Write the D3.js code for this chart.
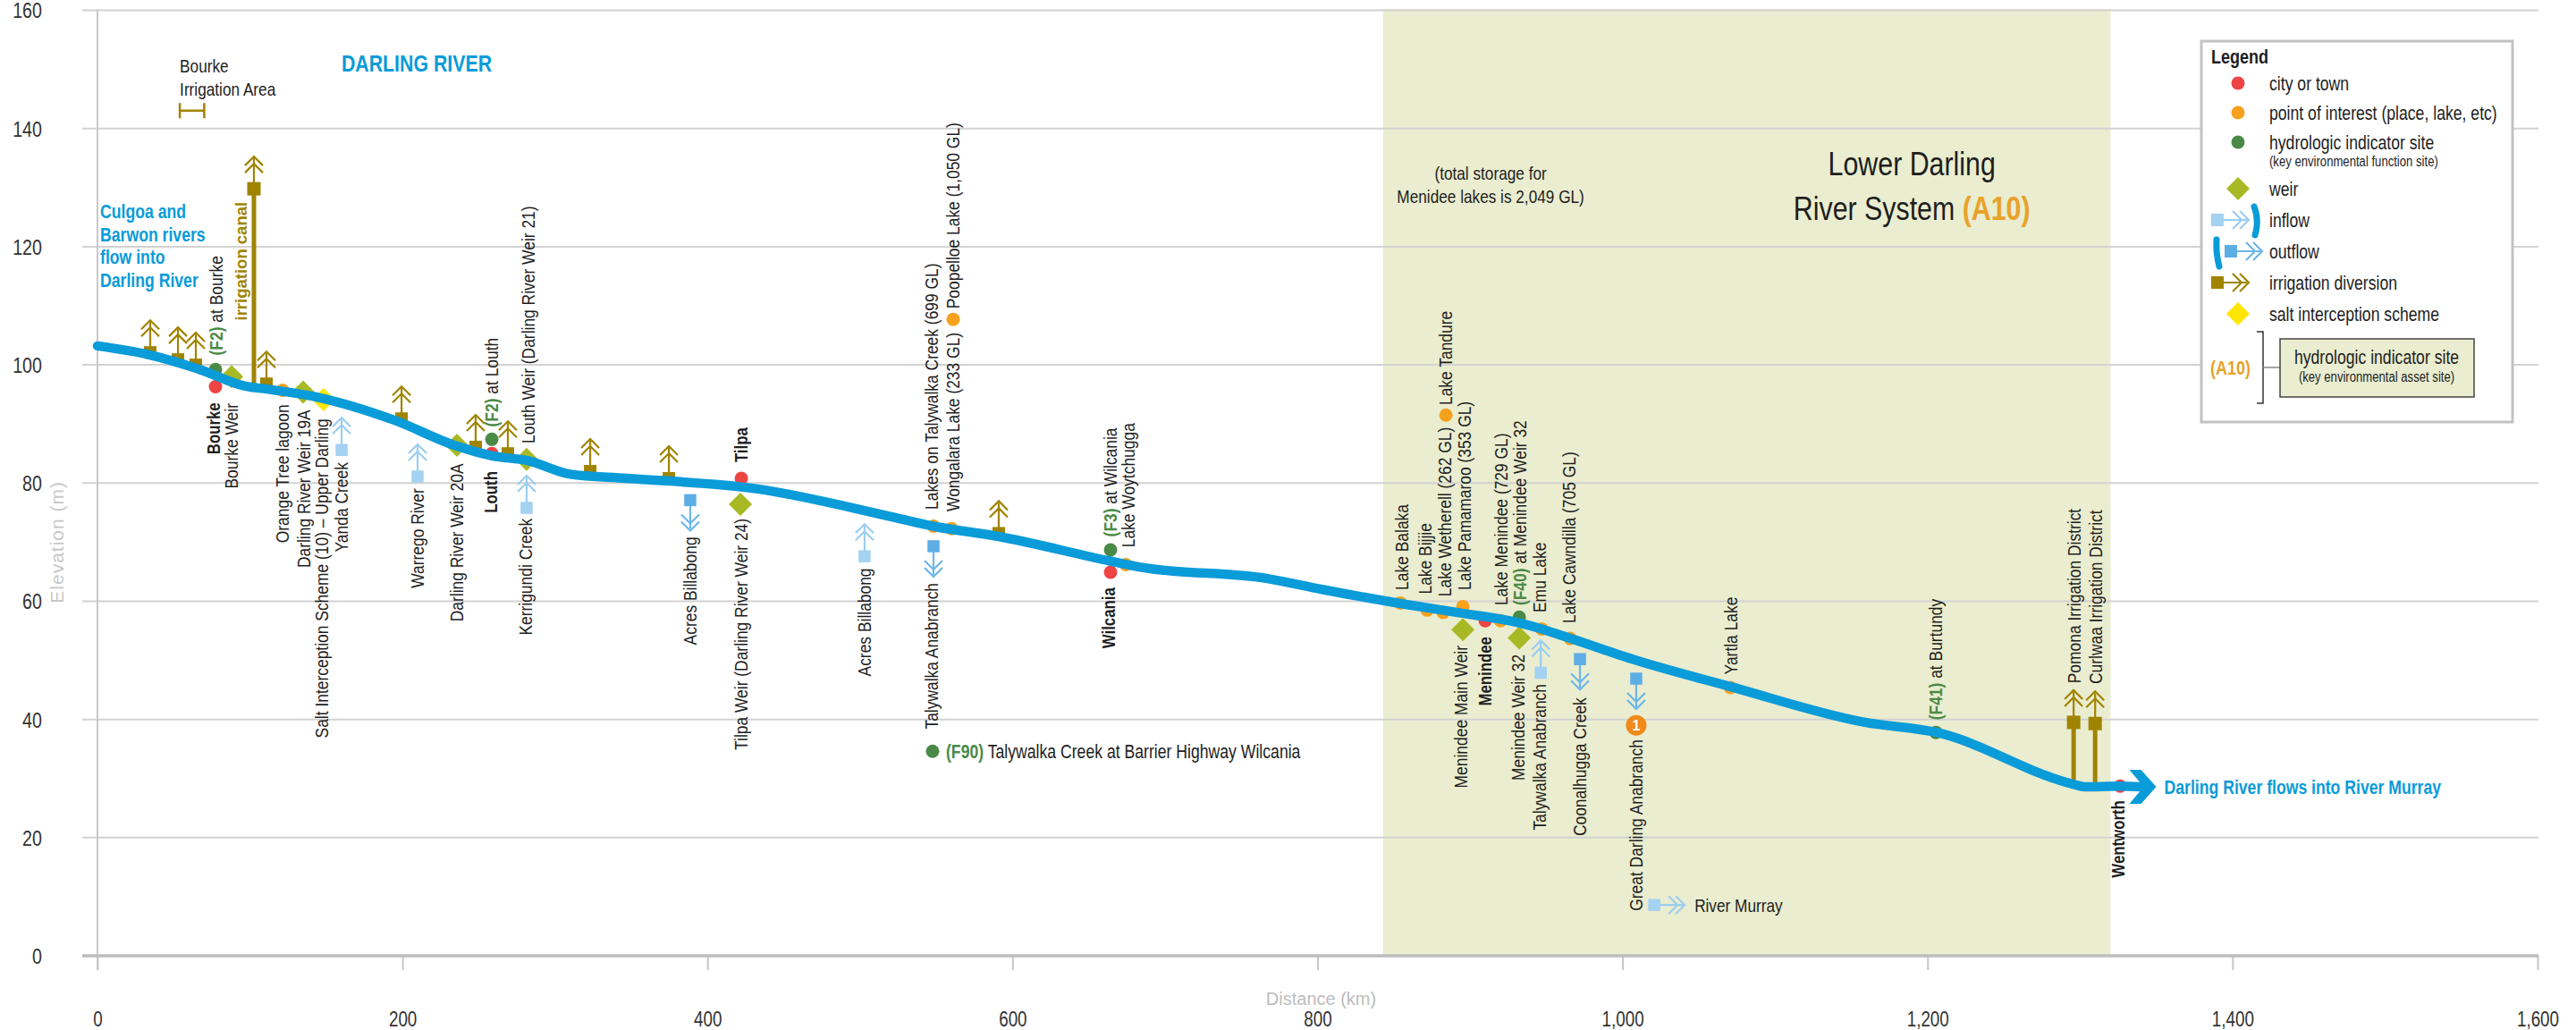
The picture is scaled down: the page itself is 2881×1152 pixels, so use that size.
<!DOCTYPE html>
<html>
<head>
<meta charset="utf-8">
<script src="https://cdn.jsdelivr.net/npm/d3@7"></script>
<style>
  body { margin: 0; background: #fff; }
  svg { display: block; font-family: "Liberation Sans", Arial, sans-serif; }
</style>
</head>
<body>
<svg id="chart" width="2881" height="1152"></svg>
<script>
// ---- data (km from source, elevation in m) ----
const xTicks = [0, 200, 400, 600, 800, 1000, 1200, 1400, 1600];
const yTicks = [0, 20, 40, 60, 80, 100, 120, 140, 160];

const riverKm   = [0, 34, 65, 97, 111, 141, 195, 235, 259, 282, 310, 347, 433, 519, 548, 590, 664, 683, 768, 803, 857, 894, 931, 952, 965, 1009, 1070, 1159, 1206, 1296, 1303, 1326, 1340];
const riverElev = [103.2, 101.7, 99.4, 96.4, 95.9, 94.7, 90.6, 86.3, 84.6, 83.8, 81.5, 80.8, 79, 74.4, 72.7, 71, 66.8, 65.8, 63.8, 62, 59.5, 58, 56.4, 54.9, 53.8, 50, 45.6, 39.5, 37.8, 29, 28.6, 28.7, 28.6];

const lowerDarlingKm = [843, 1320];
const bourkeIrrigationKm = [54, 70];

const towns = [
  {km: 77.4, elev: 96.3}, {km: 258.6, elev: 85}, {km: 422.2, elev: 80.8},
  {km: 664.3, elev: 64.9}, {km: 910, elev: 56.7}, {km: 1326.3, elev: 28.7}
];
const pointsOfInterest = [
  {km: 121.4, elev: 95.7}, {km: 548.2, elev: 72.7}, {km: 560, elev: 72.3}, {km: 561.1, elev: 107.7},
  {km: 674.3, elev: 66.2}, {km: 854.3, elev: 59.7}, {km: 871.9, elev: 58.5}, {km: 882.4, elev: 58.1},
  {km: 884.2, elev: 91.5}, {km: 895.3, elev: 59.1}, {km: 920, elev: 56.7}, {km: 947, elev: 55.3},
  {km: 965.7, elev: 53.7}, {km: 1070.7, elev: 45.4}
];
const indicatorSites = [
  {km: 77.4, elev: 99.2}, {km: 258.6, elev: 87.4}, {km: 664.3, elev: 68.7},
  {km: 932.3, elev: 57.3}, {km: 1205.5, elev: 37.8}, {km: 547.6, elev: 34.6}
];
const weirs = [
  {km: 88, elev: 98}, {km: 134.9, elev: 95.4}, {km: 235.7, elev: 86.4}, {km: 281.4, elev: 84},
  {km: 421.6, elev: 76.4}, {km: 895.3, elev: 55.2}, {km: 932.3, elev: 53.8}
];
const saltSchemes = [{km: 148.3, elev: 94.1}];
const irrigation = [
  {km: 34.6, elev: 102.1}, {km: 52.8, elev: 100.9}, {km: 64.5, elev: 100}, {km: 102.6, elev: 129.8, canal: true},
  {km: 110.8, elev: 96.8}, {km: 199.4, elev: 90.9}, {km: 248, elev: 86.1}, {km: 269.1, elev: 85},
  {km: 323.1, elev: 82}, {km: 374.7, elev: 80.8}, {km: 591, elev: 71.5},
  {km: 1295.8, elev: 39.5, canal: true}, {km: 1309.9, elev: 39.3, canal: true}
];
const inflows = [
  {km: 160.1, elev: 85.6}, {km: 209.9, elev: 81.1}, {km: 281.4, elev: 75.8},
  {km: 503, elev: 67.6}, {km: 946.4, elev: 47.9}
];
const outflows = [
  {km: 388.7, elev: 77.1}, {km: 548.2, elev: 69.3}, {km: 972.1, elev: 50.2}, {km: 1009, elev: 46.9}
];
const murrayInflow = {km: 1021.4, elev: 8.6};
const numberedSite = {km: 1009, elev: 39, n: "1"};

// dir "up": text starts at the point and runs upward; "down": text ends at the point
const siteLabels = [
  {text: "Bourke", km: 76.2, elev: 93.6, dir: "down", bold: true},
  {text: "Bourke Weir", km: 88, elev: 93.5, dir: "down"},
  {text: "Orange Tree lagoon", km: 121.4, elev: 93.3, dir: "down"},
  {text: "Darling River Weir 19A", km: 135.4, elev: 92.4, dir: "down"},
  {text: "Salt Interception Scheme (10) \u2013 Upper Darling", km: 147.2, elev: 90.9, dir: "down"},
  {text: "Yanda Creek", km: 160, elev: 83.5, dir: "down"},
  {text: "Warrego River", km: 210, elev: 79.1, dir: "down"},
  {text: "Darling River Weir 20A", km: 235.7, elev: 83.3, dir: "down"},
  {text: "Louth", km: 258, elev: 82, dir: "down", bold: true},
  {text: "Kerrigundi Creek", km: 280.9, elev: 74, dir: "down"},
  {code: "(F2)", text: "at Bourke", km: 78, elev: 101.6, dir: "up"},
  {code: "(F2)", text: "at Louth", km: 258.6, elev: 89.5, dir: "up"},
  {text: "Louth Weir (Darling River Weir 21)", km: 282.6, elev: 86.7, dir: "up"},
  {text: "Acres Billabong", km: 388.7, elev: 70.9, dir: "down"},
  {text: "Tilpa Weir (Darling River Weir 24)", km: 422.2, elev: 74, dir: "down"},
  {text: "Tilpa", km: 422.2, elev: 83.5, dir: "up", bold: true},
  {text: "Acres Billabong", km: 503, elev: 65.6, dir: "down"},
  {text: "Talywalka Anabranch", km: 547, elev: 63.1, dir: "down"},
  {text: "Lakes on Talywalka Creek (699 GL)", km: 547, elev: 75.5, dir: "up"},
  {text: "Wongalara Lake (233 GL)", km: 561, elev: 75.2, dir: "up"},
  {text: "Poopelloe Lake (1,050 GL)", km: 561, elev: 109.5, dir: "up"},
  {text: "Wilcania", km: 663, elev: 62.3, dir: "down", bold: true},
  {code: "(F3)", text: "at Wilcania", km: 664.3, elev: 70.9, dir: "up"},
  {text: "Lake Woytchugga", km: 676, elev: 69.1, dir: "up"},
  {text: "Lake Balaka", km: 855.5, elev: 61.9, dir: "up"},
  {text: "Lake Bijjie", km: 870.7, elev: 61.2, dir: "up"},
  {text: "Lake Wetherell (262 GL)", km: 883.6, elev: 60.8, dir: "up"},
  {text: "Lake Tandure", km: 884.2, elev: 93.2, dir: "up"},
  {text: "Lake Pamamaroo (353 GL)", km: 896.5, elev: 61.9, dir: "up"},
  {text: "Lake Menindee (729 GL)", km: 920.6, elev: 59.3, dir: "up"},
  {code: "(F40)", text: "at Menindee Weir 32", km: 932.9, elev: 59.3, dir: "up"},
  {text: "Emu Lake", km: 945.8, elev: 58.1, dir: "up"},
  {text: "Lake Cawndilla (705 GL)", km: 965.1, elev: 56.3, dir: "up"},
  {text: "Yartla Lake", km: 1071.2, elev: 47.6, dir: "up"},
  {text: "Menindee Main Weir", km: 894.2, elev: 52.5, dir: "down"},
  {text: "Menindee", km: 910, elev: 54, dir: "down", bold: true},
  {text: "Menindee Weir 32", km: 931.7, elev: 51, dir: "down"},
  {text: "Talywalka Anabranch", km: 945.8, elev: 46, dir: "down"},
  {text: "Coonalhugga Creek", km: 972.2, elev: 43.7, dir: "down"},
  {text: "Great Darling Anabranch", km: 1009, elev: 36.6, dir: "down"},
  {code: "(F41)", text: "at Burtundy", km: 1205.5, elev: 39.9, dir: "up"},
  {text: "Pomona Irrigation District", km: 1296.4, elev: 46.1, dir: "up"},
  {text: "Curlwaa Irrigation District", km: 1310, elev: 46, dir: "up"},
  {text: "Wentworth", km: 1325, elev: 26.3, dir: "down", bold: true}
];

const legendItems = [
  {type: "town", label: "city or town"},
  {type: "poi", label: "point of interest (place, lake, etc)"},
  {type: "indicator", label: "hydrologic indicator site", note: "(key environmental function site)"},
  {type: "weir", label: "weir"},
  {type: "inflow", label: "inflow"},
  {type: "outflow", label: "outflow"},
  {type: "irrigation", label: "irrigation diversion"},
  {type: "salt", label: "salt interception scheme"}
];

// ---- colours ----
const C = {
  river: "#0a9bd9", red: "#ee4444", orange: "#f7a11c", green: "#4a8a46", weir: "#a9b925",
  irrig: "#a08400", inflowSq: "#a3d2f2", inflowLn: "#9bcdf0", outflowSq: "#5eaee6", outflowLn: "#6cb6ea",
  salt: "#ffe600", shade: "#eaedcf", text: "#1e1e1e", fig: "#f08a1c", a10: "#e8a22a"
};
const NARROW = 0.82;

const svg = d3.select("#chart");
const x = d3.scaleLinear().domain([0, 1600]).range([109, 2838]);
const y = d3.scaleLinear().domain([0, 160]).range([1069, 11.5]);

// narrow (condensed) text helper
function ntext(parent, px, py, str, o = {}) {
  const t = parent.append("text")
    .attr("transform", `translate(${px},${py})${o.rotate ? " rotate(-90)" : ""} scale(${o.squeeze || NARROW},1)`)
    .attr("font-size", o.size || 21)
    .attr("fill", o.fill || C.text)
    .attr("text-anchor", o.anchor || "start")
    .attr("font-weight", o.bold ? "bold" : null);
  if (o.dy) t.attr("dy", o.dy);
  if (str !== null) t.text(str);
  return t;
}

// ---- background region ----
svg.append("rect")
  .attr("x", x(lowerDarlingKm[0])).attr("y", y(160) - 1.5)
  .attr("width", x(lowerDarlingKm[1]) - x(lowerDarlingKm[0]))
  .attr("height", y(0) - y(160) + 1.5)
  .attr("fill", C.shade);

// ---- grid & axes ----
svg.append("g").selectAll("line").data(yTicks.filter(d => d > 0)).join("line")
  .attr("x1", x(0) - 17).attr("x2", x(1600) + 1)
  .attr("y1", d => y(d)).attr("y2", d => y(d))
  .attr("stroke", "#d2d2d2").attr("stroke-width", 2);

const xAxisG = svg.append("g").attr("transform", `translate(0,${y(0)})`)
  .call(d3.axisBottom(x).tickValues(xTicks).tickSize(16).tickFormat(d3.format(",")));
xAxisG.attr("font-family", null).attr("font-size", 23);
xAxisG.select(".domain").remove();
xAxisG.selectAll(".tick line").attr("stroke", "#c6c6c6").attr("stroke-width", 2);
xAxisG.selectAll(".tick text").attr("y", 0).attr("dy", "0.35em")
  .attr("transform", `translate(0,71) scale(${NARROW},1)`).attr("fill", "#333");

const yAxisG = svg.append("g").attr("transform", `translate(${x(0)},0)`)
  .call(d3.axisLeft(y).tickValues(yTicks).tickSize(0));
yAxisG.attr("font-family", null).attr("font-size", 24);
yAxisG.select(".domain").remove();
yAxisG.selectAll(".tick text").attr("x", 0).attr("dy", "0.35em")
  .attr("transform", `translate(-62,0) scale(${NARROW},1)`).attr("fill", "#333");

svg.append("line").attr("x1", x(0)).attr("x2", x(0))
  .attr("y1", y(160) - 1).attr("y2", y(0) + 16)
  .attr("stroke", "#c8c8c8").attr("stroke-width", 2);
svg.append("line").attr("x1", x(0) - 17).attr("x2", x(1600) + 1)
  .attr("y1", y(0)).attr("y2", y(0))
  .attr("stroke", "#bdbdbd").attr("stroke-width", 3.5);

svg.append("text").attr("transform", `translate(${x(0) - 38},${y(70)}) rotate(-90)`)
  .attr("text-anchor", "middle").attr("font-size", 21).attr("letter-spacing", 1)
  .attr("fill", "#c8c8c8").text("Elevation (m)");
svg.append("text").attr("x", x(800) + 4).attr("y", 1124)
  .attr("text-anchor", "middle").attr("font-size", 20).attr("fill", "#bdbdbd").text("Distance (km)");

// ---- river profile ----
const river = riverKm.map((k, i) => ({km: k, elev: riverElev[i]}));
const riverAt = km => {
  const i = d3.bisector(d => d.km).right(river, km);
  const a = river[Math.max(0, i - 1)], b = river[Math.min(river.length - 1, i)];
  return a.km === b.km ? a.elev : a.elev + (b.elev - a.elev) * (km - a.km) / (b.km - a.km);
};

// tall stems of canals drawn under the river
const marks = svg.append("g");
marks.selectAll("line.stem").data(irrigation.filter(d => d.canal)).join("line")
  .attr("class", "stem")
  .attr("x1", d => x(d.km)).attr("x2", d => x(d.km))
  .attr("y1", d => y(riverAt(d.km))).attr("y2", d => y(d.elev))
  .attr("stroke", C.irrig).attr("stroke-width", 5).attr("stroke-linecap", "round");

svg.append("path").datum(river)
  .attr("d", d3.line().x(d => x(d.km)).y(d => y(d.elev)).curve(d3.curveMonotoneX))
  .attr("fill", "none").attr("stroke", C.river).attr("stroke-width", 10.5)
  .attr("stroke-linecap", "round").attr("stroke-linejoin", "round");

const last = river[river.length - 1];
const tx = x(last.km) + 17, ty = y(last.elev);
svg.append("polygon")
  .attr("points", [[tx - 30, ty - 19], [tx - 17, ty - 19], [tx, ty], [tx - 17, ty + 19], [tx - 30, ty + 19], [tx - 14, ty]].join(" "))
  .attr("fill", C.river);

// ---- symbol helpers ----
function chevronArrow(g, x1, y1, x2, y2, color, w) {
  const len = Math.hypot(x2 - x1, y2 - y1), ux = (x2 - x1) / len, uy = (y2 - y1) / len;
  g.append("line").attr("x1", x1).attr("y1", y1).attr("x2", x2 - ux * 2).attr("y2", y2 - uy * 2)
    .attr("stroke", color).attr("stroke-width", w);
  [0, 8].forEach(off => {
    const px = x2 - ux * off, py = y2 - uy * off, back = 10, half = 10;
    g.append("polyline")
      .attr("points", [[px - ux * back - uy * half, py - uy * back + ux * half], [px, py],
                       [px - ux * back + uy * half, py - uy * back - ux * half]].join(" "))
      .attr("fill", "none").attr("stroke", color).attr("stroke-width", w);
  });
}
const diamond = (g, cx, cy, r, fill) => g.append("path")
  .attr("d", `M${cx},${cy - r}L${cx + r},${cy}L${cx},${cy + r}L${cx - r},${cy}Z`).attr("fill", fill);
const square = (g, cx, cy, s, fill) => g.append("rect")
  .attr("x", cx - s / 2).attr("y", cy - s / 2).attr("width", s).attr("height", s).attr("fill", fill);

// irrigation diversions
irrigation.forEach(d => {
  const cx = x(d.km), cy = y(d.elev);
  chevronArrow(marks, cx, cy, cx, cy - 36, C.irrig, 2.2);
  square(marks, cx, cy, d.canal ? 15 : 14, C.irrig);
});
// inflows (arrow up to river) and outflows (arrow down from river)
inflows.forEach(d => {
  const cx = x(d.km), cy = y(d.elev);
  chevronArrow(marks, cx, cy, cx, cy - 36, C.inflowLn, 2.2);
  square(marks, cx, cy, 13.5, C.inflowSq);
});
outflows.forEach(d => {
  const cx = x(d.km), cy = y(d.elev);
  chevronArrow(marks, cx, cy, cx, cy + 34, C.outflowLn, 2.2);
  square(marks, cx, cy, 13.5, C.outflowSq);
});
{
  const cx = x(murrayInflow.km), cy = y(murrayInflow.elev);
  chevronArrow(marks, cx, cy, cx + 33, cy, C.inflowLn, 2.2);
  square(marks, cx - 1, cy, 13.5, C.inflowSq);
  ntext(marks, cx + 44, cy, "River Murray", {size: 21, dy: "0.35em"});
}

weirs.forEach(d => diamond(marks, x(d.km), y(d.elev), 13, C.weir));
saltSchemes.forEach(d => diamond(marks, x(d.km), y(d.elev), 13, C.salt));
marks.selectAll("circle.poi").data(pointsOfInterest).join("circle").attr("class", "poi")
  .attr("cx", d => x(d.km)).attr("cy", d => y(d.elev)).attr("r", 7.5).attr("fill", C.orange);
marks.selectAll("circle.ind").data(indicatorSites).join("circle").attr("class", "ind")
  .attr("cx", d => x(d.km)).attr("cy", d => y(d.elev)).attr("r", 7.5).attr("fill", C.green);
marks.selectAll("circle.town").data(towns).join("circle").attr("class", "town")
  .attr("cx", d => x(d.km)).attr("cy", d => y(d.elev)).attr("r", 7.5).attr("fill", C.red);

marks.append("circle").attr("cx", x(numberedSite.km)).attr("cy", y(numberedSite.elev))
  .attr("r", 11.5).attr("fill", C.fig);
marks.append("text").attr("x", x(numberedSite.km)).attr("y", y(numberedSite.elev)).attr("dy", "0.36em")
  .attr("text-anchor", "middle").attr("font-size", 16).attr("font-weight", "bold").attr("fill", "#fff")
  .text(numberedSite.n);

// ---- rotated site labels ----
const lab = svg.append("g");
siteLabels.forEach(d => {
  const t = ntext(lab, x(d.km), y(d.elev), null,
    {rotate: true, anchor: d.dir === "up" ? "start" : "end", dy: "0.35em", bold: d.bold,
     size: 20.5, squeeze: d.bold ? 0.82 : 0.85});
  if (d.code) {
    t.append("tspan").attr("fill", C.green).attr("font-weight", "bold").text(d.code);
    t.append("tspan").text(" " + d.text);
  } else t.text(d.text);
});
ntext(lab, x(94.4), y(107.5), null, {rotate: true, dy: "0.35em"})
  .attr("font-size", 18.5).attr("transform", `translate(${x(94.4)},${y(107.5)}) rotate(-90)`)
  .attr("font-weight", "bold").attr("fill", C.irrig).text("irrigation canal");

// F90 horizontal label
{
  const t = ntext(lab, x(547.6) + 15, y(34.6), null, {dy: "0.35em", size: 21.5});
  t.append("tspan").attr("fill", C.green).attr("font-weight", "bold").text("(F90)");
  t.append("tspan").text(" Talywalka Creek at Barrier Highway Wilcania");
}

// ---- annotations ----
const ann = svg.append("g");
// Bourke irrigation area bracket
{
  const x1 = x(bourkeIrrigationKm[0]), x2 = x(bourkeIrrigationKm[1]), by = y(143);
  ann.append("path").attr("d", `M${x1},${by - 8.5}V${by + 8.5}M${x1},${by}H${x2}M${x2},${by - 8.5}V${by + 8.5}`)
    .attr("fill", "none").attr("stroke", C.irrig).attr("stroke-width", 2.5);
  ntext(ann, x1, y(149.5), "Bourke", {size: 21});
  ntext(ann, x1, y(149.5) + 26, "Irrigation Area", {size: 21});
}
ntext(ann, x(160), y(149.6), "DARLING RIVER", {size: 26, bold: true, fill: C.river});
["Culgoa and", "Barwon rivers", "flow into", "Darling River"].forEach((s, i) =>
  ntext(ann, x(1.8), y(124.8) + i * 25.5, s, {size: 21.5, bold: true, fill: C.river}));
ntext(ann, x(913.5), y(131.4), "(total storage for", {size: 21, anchor: "middle"});
ntext(ann, x(913.5), y(131.4) + 26, "Menidee lakes is 2,049 GL)", {size: 21, anchor: "middle"});
ntext(ann, x(1189.7), y(132.1), "Lower Darling", {size: 37, anchor: "middle"});
{
  const t = ntext(ann, x(1189.7), y(132.1) + 50, null, {size: 37, anchor: "middle"});
  t.append("tspan").text("River System ");
  t.append("tspan").attr("fill", C.a10).attr("font-weight", "bold").text("(A10)");
}
ntext(ann, tx + 9, ty, "Darling River flows into River Murray", {size: 21.5, bold: true, fill: C.river, dy: "0.35em"});

// ---- legend ----
const lg = svg.append("g");
lg.append("rect").attr("x", 2462).attr("y", 46).attr("width", 348).attr("height", 426)
  .attr("fill", "#fff").attr("stroke", "#c2c2c2").attr("stroke-width", 3);
ntext(lg, 2473, 71, "Legend", {size: 22, bold: true});
const symX = 2503, txtX = 2538;
legendItems.forEach((d, i) => {
  const cy = i < 3 ? 93 + i * 33 : 211 + (i - 3) * 35;
  if (d.type === "town") lg.append("circle").attr("cx", symX).attr("cy", cy).attr("r", 7.5).attr("fill", C.red);
  if (d.type === "poi") lg.append("circle").attr("cx", symX).attr("cy", cy).attr("r", 7.5).attr("fill", C.orange);
  if (d.type === "indicator") lg.append("circle").attr("cx", symX).attr("cy", cy).attr("r", 7.5).attr("fill", C.green);
  if (d.type === "weir") diamond(lg, symX, cy, 13, C.weir);
  if (d.type === "salt") diamond(lg, symX, cy, 13, C.salt);
  if (d.type === "inflow") {
    chevronArrow(lg, 2480, cy, 2515, cy, C.inflowLn, 2.2);
    square(lg, 2480, cy, 14, C.inflowSq);
    lg.append("path").attr("d", `M${2521},${cy - 15} Q${2527},${cy} ${2522},${cy + 17}`)
      .attr("fill", "none").attr("stroke", C.river).attr("stroke-width", 7).attr("stroke-linecap", "round");
  }
  if (d.type === "outflow") {
    lg.append("path").attr("d", `M${2479},${cy - 13} Q${2478},${cy + 2} ${2482},${cy + 17}`)
      .attr("fill", "none").attr("stroke", C.river).attr("stroke-width", 7).attr("stroke-linecap", "round");
    chevronArrow(lg, 2495, cy, 2530, cy, C.outflowLn, 2.2);
    square(lg, 2495, cy, 14, C.outflowSq);
  }
  if (d.type === "irrigation") {
    chevronArrow(lg, 2480, cy, 2515, cy, C.irrig, 2.2);
    square(lg, 2480, cy, 14, C.irrig);
  }
  ntext(lg, txtX, cy, d.label, {size: 21.5, dy: "0.35em"});
  if (d.note) ntext(lg, txtX, cy + 27, d.note, {size: 16});
});
// A10 entry
lg.append("path").attr("d", "M2524,371H2531V451H2524").attr("fill", "none").attr("stroke", "#333").attr("stroke-width", 1.5);
lg.append("line").attr("x1", 2531).attr("x2", 2550).attr("y1", 411).attr("y2", 411).attr("stroke", "#888").attr("stroke-width", 1.5);
lg.append("rect").attr("x", 2550).attr("y", 379).attr("width", 217).attr("height", 65)
  .attr("fill", C.shade).attr("stroke", "#444").attr("stroke-width", 1.5);
ntext(lg, 2472, 411, "(A10)", {size: 22, bold: true, fill: C.a10, dy: "0.35em"});
ntext(lg, 2658, 407, "hydrologic indicator site", {size: 21.5, anchor: "middle"});
ntext(lg, 2658, 427, "(key environmental asset site)", {size: 16, anchor: "middle"});
</script>
</body>
</html>
